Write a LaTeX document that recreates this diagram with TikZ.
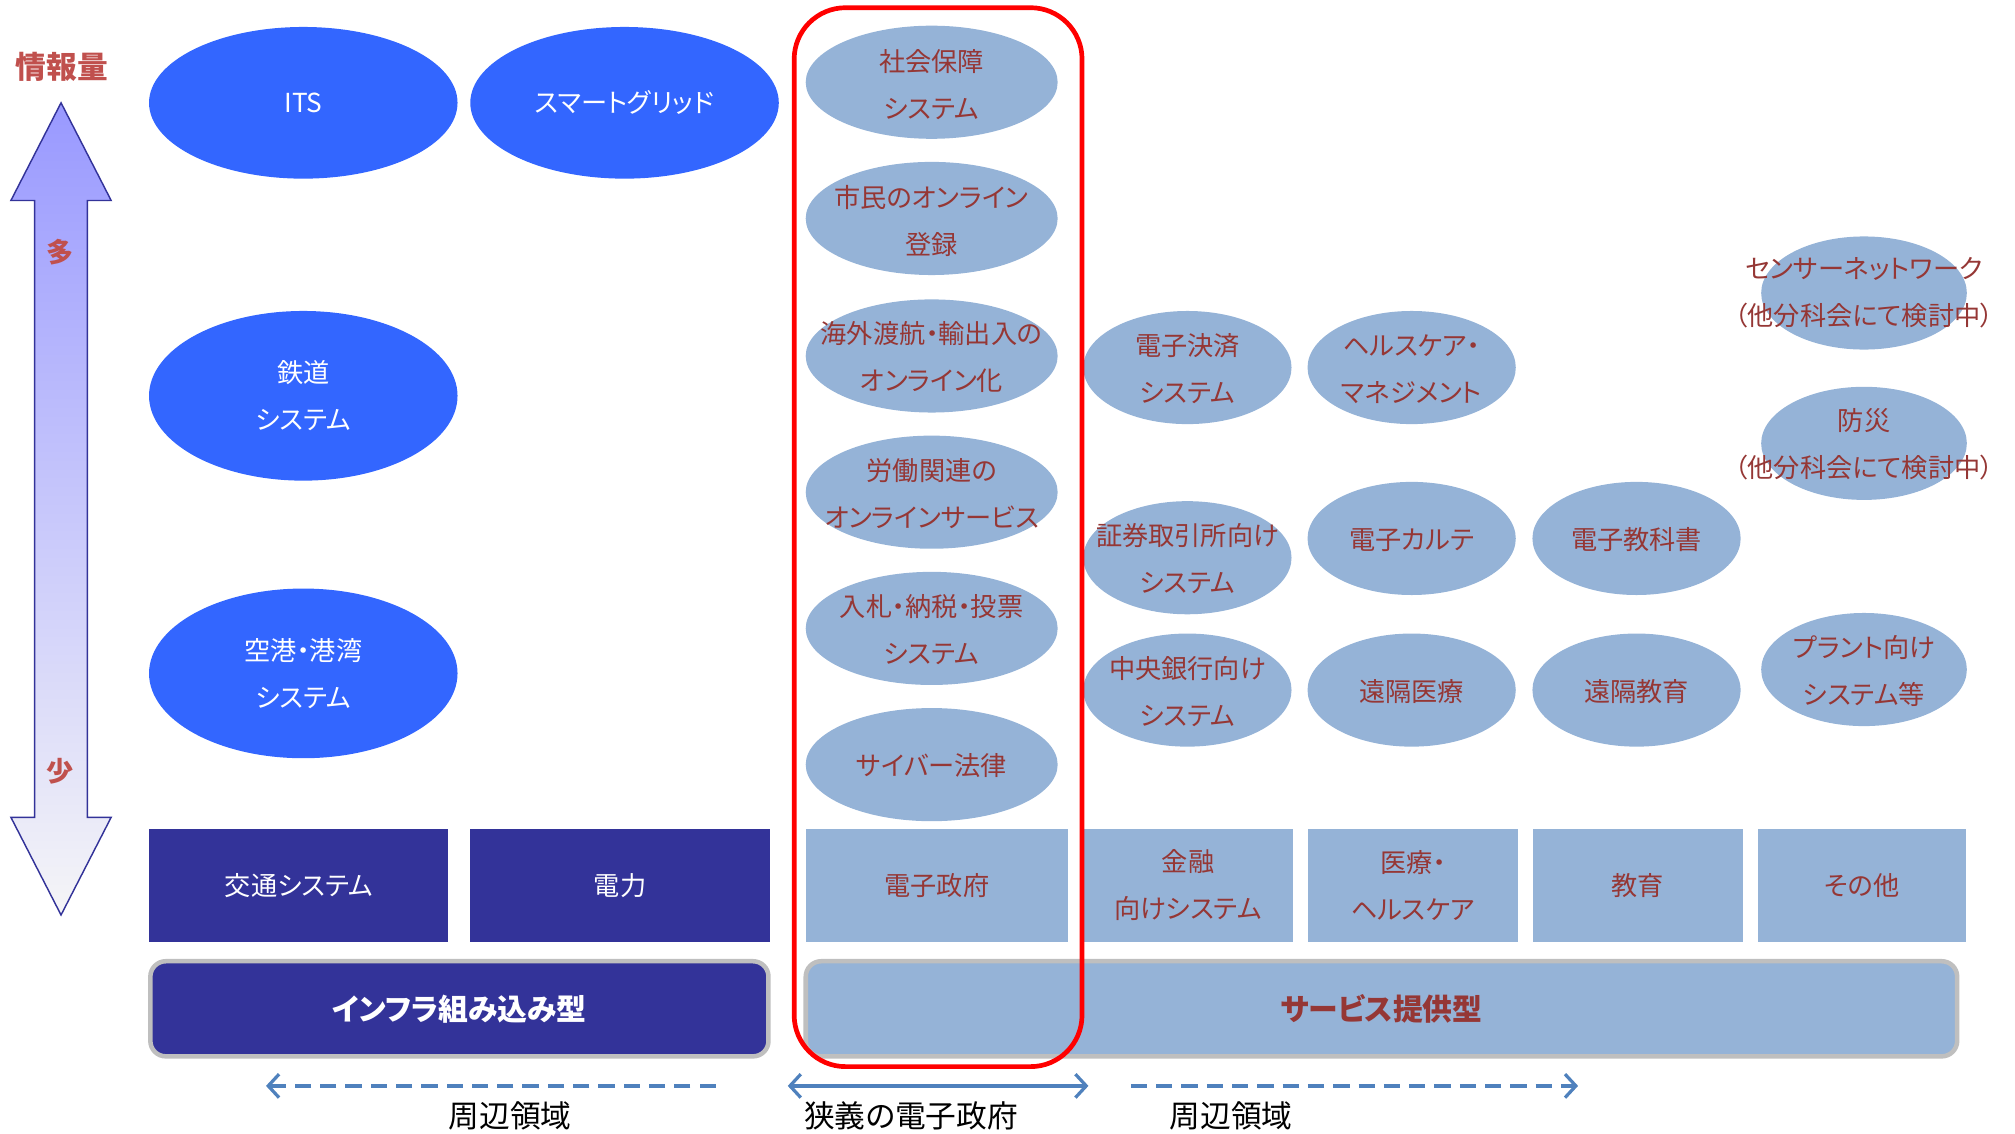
\documentclass[tikz,border=0pt]{standalone}
\usepackage{fontspec}
\setmainfont{Noto Sans CJK JP}[RawFeature={+palt}]
\usetikzlibrary{arrows.meta}
\definecolor{eblue}{HTML}{3366FF}
\definecolor{navy}{HTML}{333399}
\definecolor{lb}{HTML}{95B3D7}
\definecolor{dred}{HTML}{953735}
\definecolor{lred}{HTML}{C0504D}
\definecolor{ablue}{HTML}{4F81BD}
\definecolor{gborder}{HTML}{BFBFBF}
\definecolor{arrtop}{HTML}{9999FF}
\definecolor{arrbot}{HTML}{F5F5F7}
\begin{document}
\begin{tikzpicture}[x=0.025cm,y=-0.025cm,
  txt/.style={font=\fontsize{14.5}{26}\selectfont, align=center, inner sep=0pt},
  wt/.style={txt, text=white},
  rt/.style={txt, text=dred},
  bige/.style={fill=eblue},
  smle/.style={fill=lb},
  nbox/.style={fill=navy, text=white, minimum height=2.2cm, inner sep=0pt, align=center, font=\fontsize{14.5}{26}\selectfont},
  lbox/.style={fill=lb, text=dred, minimum height=2.2cm, inner sep=0pt, align=center, font=\fontsize{14.5}{26}\selectfont},
  bar/.style={draw=gborder, line width=2.5pt, rounded corners=0.3cm, minimum height=1.85cm, inner sep=0pt, font=\fontsize{16.5}{20}\selectfont\bfseries},
  lbl/.style={font=\fontsize{17}{20}\selectfont, inner sep=0pt, text=black},
  side/.style={font=\fontsize{17}{20}\selectfont\bfseries, inner sep=0pt, text=lred},
  parrow/.style={draw=ablue, line width=1.8pt},
  barb/.tip={Straight Barb[length=6pt,width=13pt]}
]
\useasboundingbox (0,0) rectangle (1568,882);

% vertical axis arrow
\shade[top color=arrtop, bottom color=arrbot, draw=navy, line width=0.8pt]
  (47.5,80) -- (86.5,156) -- (68,156) -- (68,636) -- (86.5,636) -- (47.5,712)
  -- (8.5,636) -- (27,636) -- (27,156) -- (8.5,156) -- cycle;
\node[side] (qty) at (48,52) {情報量};
\node[side, font=\fontsize{15}{18}\selectfont\bfseries] (many) at (47,196) {多};
\node[side, font=\fontsize{15}{18}\selectfont\bfseries] (few) at (47,600) {少};

% infrastructure ellipses
\fill[bige] (236,80) ellipse [x radius=3cm, y radius=1.475cm];
\node[wt] (its) at (236,80) {ITS};
\fill[bige] (486,80) ellipse [x radius=3cm, y radius=1.475cm];
\node[wt] (smart) at (486,80) {スマートグリッド};
\fill[bige] (236,308) ellipse [x radius=3cm, y radius=1.65cm];
\node[wt] (rail) at (236,308) {鉄道\\システム};
\fill[bige] (236,524) ellipse [x radius=3cm, y radius=1.65cm];
\node[wt] (port) at (236,524) {空港・港湾\\システム};

% e-government column
\fill[smle] (725,64) ellipse [x radius=2.45cm, y radius=1.1cm];
\node[rt] (g1) at (725,66) {社会保障\\システム};
\fill[smle] (725,170) ellipse [x radius=2.45cm, y radius=1.1cm];
\node[rt] (g2) at (725,172) {市民のオンライン\\登録};
\fill[smle] (725,277) ellipse [x radius=2.45cm, y radius=1.1cm];
\node[rt] (g3) at (725,278) {海外渡航・輸出入の\\オンライン化};
\fill[smle] (725,383) ellipse [x radius=2.45cm, y radius=1.1cm];
\node[rt] (g4) at (725,384) {労働関連の\\オンラインサービス};
\fill[smle] (725,489) ellipse [x radius=2.45cm, y radius=1.1cm];
\node[rt] (g5) at (725,490) {入札・納税・投票\\システム};
\fill[smle] (725,595) ellipse [x radius=2.45cm, y radius=1.1cm];
\node[rt] (g6) at (725,596) {サイバー法律};

% finance column
\fill[smle] (924,286) ellipse [x radius=2.025cm, y radius=1.1cm];
\node[rt] (f1) at (924,287) {電子決済\\システム};
\fill[smle] (924,434) ellipse [x radius=2.025cm, y radius=1.1cm];
\node[rt] (f2) at (924,435) {証券取引所向け\\システム};
\fill[smle] (924,537) ellipse [x radius=2.025cm, y radius=1.1cm];
\node[rt] (f3) at (924,538) {中央銀行向け\\システム};

% health column
\fill[smle] (1098.5,286) ellipse [x radius=2.025cm, y radius=1.1cm];
\node[rt] (h1) at (1098.5,287) {ヘルスケア・\\マネジメント};
\fill[smle] (1098.5,419) ellipse [x radius=2.025cm, y radius=1.1cm];
\node[rt] (h2) at (1098.5,420) {電子カルテ};
\fill[smle] (1098.5,537) ellipse [x radius=2.025cm, y radius=1.1cm];
\node[rt] (h3) at (1098.5,538) {遠隔医療};

% education column
\fill[smle] (1273.5,419) ellipse [x radius=2.025cm, y radius=1.1cm];
\node[rt] (ed1) at (1273.5,420) {電子教科書};
\fill[smle] (1273.5,537) ellipse [x radius=2.025cm, y radius=1.1cm];
\node[rt] (ed2) at (1273.5,538) {遠隔教育};

% other column
\fill[smle] (1450.5,228) ellipse [x radius=2.0cm, y radius=1.1cm];
\node[rt] (o1) at (1450.5,228) {センサーネットワーク\\（他分科会にて検討中）};
\fill[smle] (1450.5,345) ellipse [x radius=2.0cm, y radius=1.1cm];
\node[rt] (o2) at (1450.5,346) {防災\\（他分科会にて検討中）};
\fill[smle] (1450.5,521) ellipse [x radius=2.0cm, y radius=1.1cm];
\node[rt] (o3) at (1450.5,522) {プラント向け\\システム等};

% category boxes
\node[nbox, minimum width=233*0.025cm] (traffic) at (232.5,689) {交通システム};
\node[nbox, minimum width=233*0.025cm] (power) at (482.5,689) {電力};
\node[lbox, minimum width=204*0.025cm] (egov) at (729,689) {電子政府};
\node[lbox, minimum width=163*0.025cm] (fin) at (924.5,689) {金融\\向けシステム};
\node[lbox, minimum width=163*0.025cm] (med) at (1099.5,689) {医療・\\ヘルスケア};
\node[lbox, minimum width=163*0.025cm] (edu) at (1274.5,689) {教育};
\node[lbox, minimum width=162*0.025cm] (oth) at (1449,689) {その他};

% type bars
\node[bar, fill=navy, text=white, minimum width=481*0.025cm] (infra) at (357.5,785) {インフラ組み込み型};
\node[bar, fill=lb, text=dred, minimum width=896*0.025cm] (serv) at (1075,785) {サービス提供型};

% narrow e-government frame
\node[draw=red, line width=2.6pt, rounded corners=1cm, minimum width=224*0.025cm, minimum height=824*0.025cm, inner sep=0pt] (narrow) at (730,418) {};

% range arrows
\coordinate (l1) at (557,845);
\coordinate (l2) at (207,845);
\coordinate (m1) at (613,845);
\coordinate (m2) at (847,845);
\coordinate (r1) at (880,845);
\coordinate (r2) at (1228,845);
\draw[parrow, dash pattern=on 9pt off 5pt, -barb] (l1) -- (l2);
\draw[parrow, barb-barb] (m1) -- (m2);
\draw[parrow, dash pattern=on 9pt off 5pt, -barb] (r1) -- (r2);

\node[lbl] (perl) at (397,868) {周辺領域};
\node[lbl] (narl) at (709,868) {狭義の電子政府};
\node[lbl] (perr) at (958,868) {周辺領域};
\end{tikzpicture}
\end{document}
